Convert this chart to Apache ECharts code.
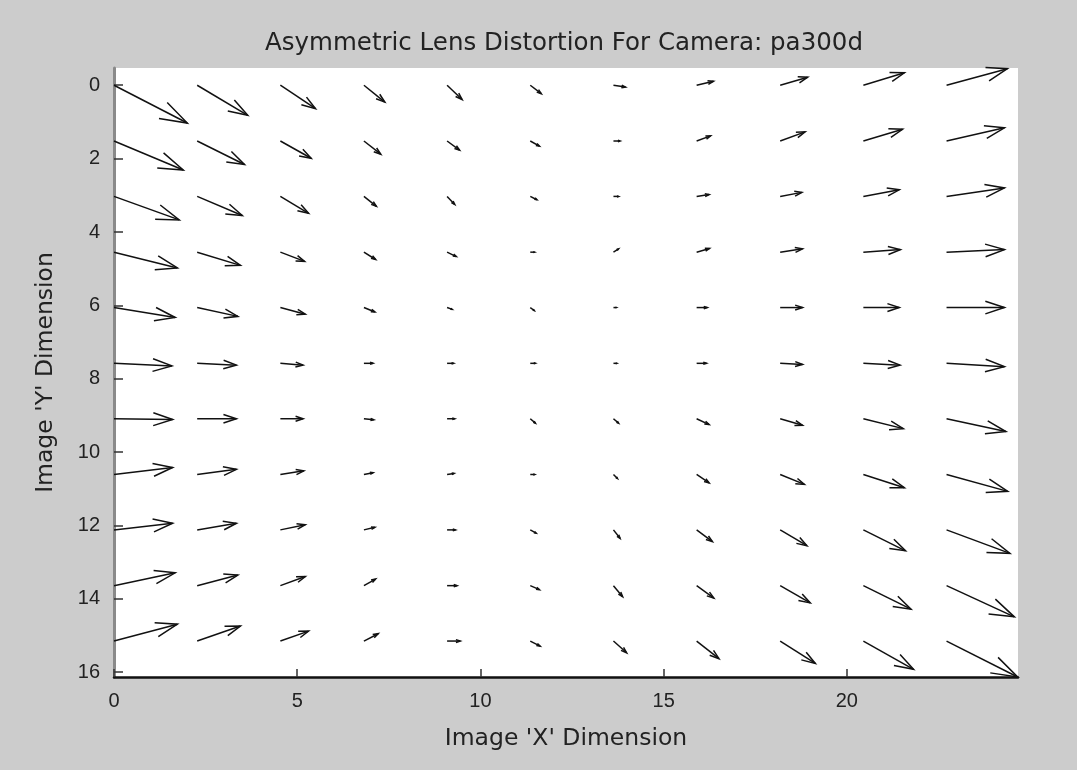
<!DOCTYPE html>
<html><head><meta charset="utf-8">
<script src="https://cdn.jsdelivr.net/npm/echarts@6/dist/echarts.min.js"></script>
<style>html,body{margin:0;padding:0;background:#cccccc}#c{width:1077px;height:770px}</style>
</head><body><div id="c"></div>
<script>
// Sample grid positions (image units)
const xPositions = [0, 2.27, 4.54, 6.82, 9.09, 11.36, 13.63, 15.9, 18.18, 20.45, 22.72];
const yPositions = [0, 1.52, 3.03, 4.55, 6.06, 7.58, 9.09, 10.61, 12.12, 13.64, 15.15];

// Displacement along X for each row (top to bottom), columns left to right
const uRows = [
  [2.00, 1.38, 0.96, 0.57, 0.41, 0.30, 0.33, 0.46, 0.75, 1.12, 1.66],
  [1.89, 1.29, 0.84, 0.46, 0.34, 0.25, 0.18, 0.38, 0.68, 1.07, 1.58],
  [1.78, 1.23, 0.77, 0.34, 0.21, 0.18, 0.14, 0.34, 0.59, 0.98, 1.58],
  [1.73, 1.18, 0.66, 0.32, 0.25, 0.12, 0.14, 0.35, 0.61, 1.01, 1.58],
  [1.67, 1.11, 0.68, 0.30, 0.14, 0.11, 0.08, 0.29, 0.61, 0.98, 1.58],
  [1.58, 1.07, 0.62, 0.25, 0.18, 0.14, 0.09, 0.27, 0.61, 1.00, 1.58],
  [1.60, 1.07, 0.62, 0.27, 0.21, 0.14, 0.14, 0.34, 0.61, 1.09, 1.62],
  [1.60, 1.07, 0.64, 0.25, 0.19, 0.12, 0.11, 0.34, 0.66, 1.12, 1.67],
  [1.60, 1.07, 0.68, 0.30, 0.23, 0.16, 0.18, 0.43, 0.73, 1.15, 1.73],
  [1.67, 1.11, 0.68, 0.32, 0.27, 0.25, 0.25, 0.47, 0.82, 1.30, 1.85],
  [1.73, 1.18, 0.77, 0.39, 0.36, 0.27, 0.36, 0.61, 0.96, 1.37, 1.94]
];
// Displacement along Y (positive = downward in image)
const vRows = [
  [1.03, 0.82, 0.64, 0.46, 0.39, 0.23, 0.05, -0.11, -0.22, -0.34, -0.45],
  [0.79, 0.64, 0.47, 0.36, 0.25, 0.14, 0.00, -0.14, -0.25, -0.32, -0.36],
  [0.64, 0.52, 0.46, 0.27, 0.22, 0.09, 0.00, -0.05, -0.11, -0.18, -0.23],
  [0.43, 0.36, 0.25, 0.20, 0.12, 0.00, -0.09, -0.10, -0.09, -0.07, -0.07],
  [0.27, 0.24, 0.18, 0.12, 0.05, 0.08, 0.00, 0.00, 0.00, 0.00, 0.00],
  [0.07, 0.05, 0.05, 0.00, 0.00, 0.00, 0.00, 0.00, 0.03, 0.05, 0.09],
  [0.02, 0.00, 0.00, 0.03, 0.00, 0.12, 0.12, 0.16, 0.18, 0.27, 0.35],
  [-0.19, -0.14, -0.10, -0.05, -0.03, 0.00, 0.11, 0.23, 0.27, 0.36, 0.46],
  [-0.18, -0.18, -0.14, -0.07, 0.00, 0.09, 0.23, 0.32, 0.43, 0.57, 0.64],
  [-0.35, -0.29, -0.25, -0.18, 0.00, 0.11, 0.30, 0.34, 0.47, 0.64, 0.85],
  [-0.46, -0.41, -0.27, -0.20, 0.00, 0.14, 0.32, 0.48, 0.61, 0.77, 0.98]
];

const xTicks = [0, 5, 10, 15, 20];
const yTicks = [0, 2, 4, 6, 8, 10, 12, 14, 16];

const data = [];
for (let r = 0; r < yPositions.length; r++) {
  for (let c = 0; c < xPositions.length; c++) {
    data.push([xPositions[c], yPositions[r], uRows[r][c], vRows[r][c]]);
  }
}

const LINE = '#111111';
function renderItem(params, api) {
  const x = api.value(0), y = api.value(1), u = api.value(2), v = api.value(3);
  const p0 = api.coord([x, y]);
  const p1 = api.coord([x + u, y + v]);
  const dx = p1[0] - p0[0], dy = p1[1] - p0[1];
  const a = 0.33, b = 0.33;
  const h1 = [p1[0] - a * (dx + b * dy), p1[1] - a * (dy - b * dx)];
  const h2 = [p1[0] - a * (dx - b * dy), p1[1] - a * (dy + b * dx)];
  return {
    type: 'group',
    children: [
      { type: 'line', shape: { x1: p0[0], y1: p0[1], x2: p1[0], y2: p1[1] },
        style: { stroke: LINE, lineWidth: 1.5 } },
      { type: 'polyline', shape: { points: [h1, p1, h2] },
        style: { stroke: LINE, fill: null, lineWidth: 1.5 } }
    ]
  };
}

const FONT = 'Liberation Sans, Arial, sans-serif';
const WFONT = 'DejaVu Sans, Verdana, sans-serif';
const chart = echarts.init(document.getElementById('c'), null, { renderer: 'canvas' });
chart.setOption({
  backgroundColor: '#cccccc',
  animation: false,
  title: {
    text: 'Asymmetric Lens Distortion For Camera: pa300d',
    left: 559, top: 26, textAlign: 'center',
    textStyle: { fontFamily: WFONT, fontSize: 24.5, fontWeight: 'normal', color: '#222' }
  },
  grid: { left: 114, top: 68, right: 59, bottom: 93, show: true, backgroundColor: '#ffffff', borderWidth: 0 },
  xAxis: {
    type: 'value', min: 0, max: 24.67,
    name: "Image 'X' Dimension", nameLocation: 'middle', nameGap: 50,
    nameTextStyle: { fontFamily: WFONT, fontSize: 23.5, color: '#222' },
    axisLine: { show: true, onZero: false, lineStyle: { color: '#111', width: 2.5 } },
    axisTick: { show: true, inside: true, length: 8, customValues: xTicks, lineStyle: { color: '#333', width: 1.5 } },
    axisLabel: { customValues: xTicks, margin: 14, fontFamily: FONT, fontSize: 20, color: '#222' },
    splitLine: { show: false }
  },
  yAxis: {
    type: 'value', inverse: true, min: -0.47, max: 16.13,
    name: "Image 'Y' Dimension", nameLocation: 'middle', nameGap: 56,
    nameTextStyle: { fontFamily: WFONT, fontSize: 23.5, color: '#222' },
    axisLine: { show: true, onZero: false, lineStyle: { color: '#8a8a8a', width: 3 } },
    axisTick: { show: true, inside: true, length: 9, customValues: yTicks, lineStyle: { color: '#333', width: 1.5 } },
    axisLabel: { customValues: yTicks, margin: 14, fontFamily: FONT, fontSize: 20, color: '#222' },
    splitLine: { show: false }
  },
  series: [{
    type: 'custom',
    coordinateSystem: 'cartesian2d',
    renderItem: renderItem,
    clip: false,
    encode: { x: 0, y: 1 },
    data: data
  }]
});
</script></body></html>
